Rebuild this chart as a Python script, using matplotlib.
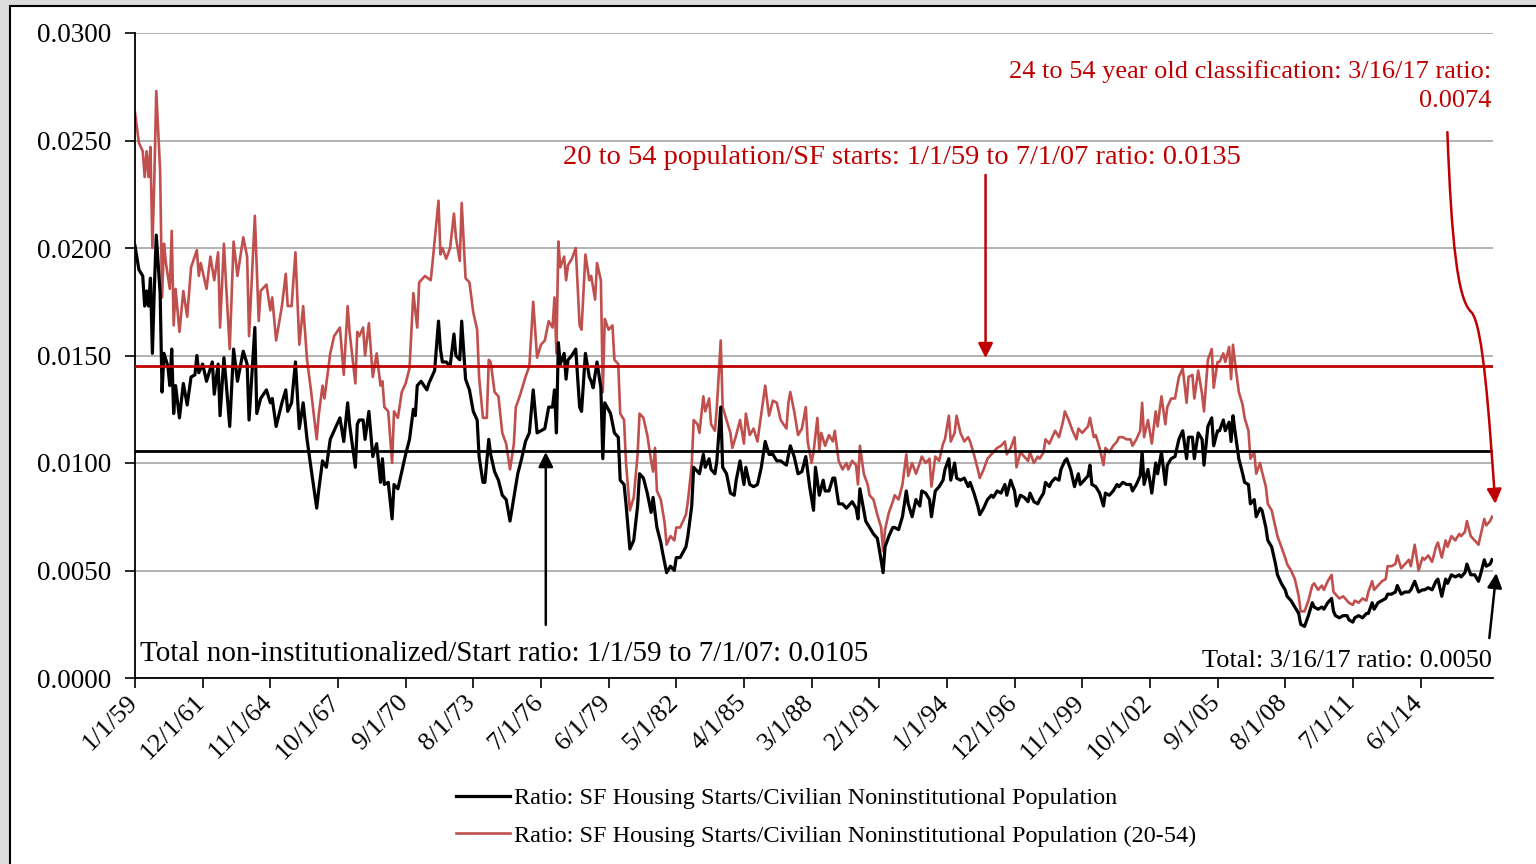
import numpy as np
import matplotlib
matplotlib.use("Agg")
import matplotlib.pyplot as plt
from matplotlib.patches import Rectangle, FancyArrowPatch
from matplotlib.path import Path
from matplotlib.transforms import ScaledTranslation

plt.rcParams['font.family'] = ['Liberation Serif', 'DejaVu Serif']

# months counted from 1/1/59, ratios in units of 1e-4
red_month = [
    0, 2, 4, 5, 6, 7, 8, 9, 10, 11,
    13, 14, 15, 16, 18, 19, 20, 21, 23, 25,
    27, 29, 32, 33, 34, 37, 39, 41, 43, 44,
    46, 47, 49, 51, 53, 56, 58, 59, 62, 64,
    65, 68, 70, 71, 73, 76, 78, 79, 81, 83,
    85, 87, 89, 91, 94, 95, 97, 98, 101, 103,
    106, 108, 110, 111, 114, 115,
    116, 118, 119, 121, 123, 125, 127, 128, 129, 131,
    133, 134, 136, 138, 140, 142, 144, 146, 147, 150,
    153, 154, 157, 158, 159, 161, 163, 165, 166, 168,
    169, 171, 173, 175, 177, 178, 180, 182, 183, 184,
    186, 188, 190, 192, 194, 196, 197, 199, 202, 204,
    206, 208, 210, 212, 214, 216, 217, 218, 219, 220,
    222, 223, 224, 226, 228, 230, 231, 233,
    235, 236, 238, 239, 241, 242, 243, 245, 247, 248,
    250, 251, 253, 254, 256, 258, 260, 261, 263, 265,
    267, 268, 269, 270, 272, 274, 275, 277, 279, 280,
    282, 285, 286, 288, 289, 291, 292, 294, 295, 297,
    298, 300, 301, 303, 304, 306, 308, 309, 311, 313,
    315, 316, 318, 320, 322, 324, 326, 328, 330, 332,
    334, 337, 338, 339, 341, 343, 345, 347, 348, 350,
    351, 353, 354, 355, 357, 359, 361, 362, 364, 366,
    368, 369, 371, 373, 374, 375, 377, 379, 380, 382,
    384, 386, 387, 388, 390, 392, 393, 395, 397, 399,
    400, 402, 404, 406, 407, 409, 411, 412, 414, 416,
    418, 419, 421, 422, 424, 425, 427, 429, 431, 432,
    434, 436, 437, 439, 441, 443, 444, 446, 448, 450,
    451, 453, 455, 456, 458, 460, 462, 463, 465, 467,
    468, 470, 471, 473, 474, 476, 478, 480, 481, 483,
    485, 487, 488, 490, 491, 493, 494, 496, 497, 499,
    501, 502, 504, 506, 508, 509, 511, 513, 515, 516,
    518, 520, 521, 522, 524, 526, 528, 529, 531, 533,
    534, 536, 538, 540, 542, 544, 545, 547, 548, 550,
    552, 553, 555, 557, 558, 560, 561, 563, 564, 566,
    567, 568, 569, 571, 573, 574, 576, 577, 579, 580,
    582, 583, 585,
    586, 588, 590, 591, 593, 595, 596, 598, 600, 602,
    603, 605, 607, 609, 610, 612, 614, 615, 617, 619,
    620, 621, 623, 625, 627, 628, 630, 631, 633, 635,
    637, 638, 640, 641, 643, 645, 647, 648, 650, 652,
    653, 655, 657, 659, 660, 662, 664, 666, 667, 669,
    671, 673, 674, 676, 678, 679, 681, 683, 685, 686,
    688, 689, 691, 693, 695, 696, 698, 699, 701, 702,
]
red_ratio = [
    263, 249, 245, 233, 245, 233, 247, 200, 232, 273,
    236, 177, 202, 193, 181, 208, 164, 181, 161, 180,
    168, 191, 199, 187, 193, 181, 196, 185, 198, 163,
    202, 185, 153, 203, 187, 205, 196, 159, 215, 166,
    180, 183, 171, 177, 157, 173, 188, 173, 173, 198,
    155, 173, 148, 134, 111, 122, 136, 130, 151, 159,
    163, 141, 173, 161, 137, 161,
    159, 163, 150, 165, 140, 151, 136, 138, 126, 124,
    100, 124, 121, 133, 137, 144, 179, 163, 184, 187,
    185, 194, 222, 197, 200, 195, 200, 216, 205, 194,
    221, 186, 184, 170, 162, 140, 121, 121, 148, 147,
    133, 131, 114, 109, 97, 109, 126, 131, 140, 145,
    175, 149, 155, 157, 166, 163, 177, 151, 203, 191,
    196, 185, 192, 195, 200, 164, 162, 197,
    185, 187, 176, 193, 185, 133, 167, 162, 164, 148,
    146, 123, 120, 100, 78, 84, 104, 123, 121, 113,
    101, 96, 107, 87, 83, 72, 62, 66, 64, 70,
    70, 76, 82, 99, 120, 118, 114, 131, 124, 130,
    118, 115, 126, 157, 126, 120, 114, 107, 113, 120,
    109, 123, 113, 116, 110, 123, 136, 122, 129, 128,
    120, 116, 128, 133, 124, 113, 116, 126, 110, 100,
    105, 121, 106, 114, 108, 113, 110, 115, 101, 97,
    100, 97, 101, 99, 90, 108, 95, 90, 85, 83,
    76, 70, 59, 69, 77, 82, 85, 83, 90, 104,
    94, 100, 95, 100, 103, 100, 102, 89, 103, 101,
    109, 111, 122, 110, 114, 122, 114, 110, 112, 110,
    104, 97, 93, 97, 102, 104, 105, 107, 108, 110,
    104, 107, 112, 98, 105, 103, 101, 105, 100, 103,
    102, 105, 111, 109, 111, 115, 112, 119, 124, 120,
    115, 111, 116, 114, 115, 117, 121, 112, 113, 107,
    99, 107, 105, 108, 110, 112, 112, 111, 111, 108,
    111, 115, 128, 112, 120, 109, 124, 117, 131, 118,
    126, 130, 130, 140, 144, 128, 140, 141, 130, 143,
    132, 124, 148, 153, 135, 147, 147, 151, 147, 154,
    139, 155, 147, 133, 127, 121, 115, 102, 105, 95,
    100, 96, 89,
    81, 78, 70, 66, 61, 56, 53, 50, 46, 38,
    31, 31, 36, 43, 44, 41, 43, 41, 45, 48,
    40, 39, 37, 38, 36, 35, 34, 36, 35, 37,
    36, 40, 45, 41, 43, 45, 46, 52, 52, 53,
    57, 51, 53, 55, 52, 62, 50, 56, 55, 57,
    54, 61, 63, 56, 64, 61, 66, 64, 67, 66,
    68, 73, 66, 64, 62, 66, 74, 71, 73, 75,
]

black_month = [
    0, 2, 4, 5, 6, 7, 8, 9, 10, 11,
    13, 14, 15, 17, 18, 19, 20, 21, 23, 25,
    27, 29, 31, 32, 33, 35, 37, 40, 41, 43,
    44, 46, 47, 49, 51, 53, 56, 58, 59, 62,
    63, 65, 68, 70, 71, 73, 76, 78, 79, 81,
    83, 85, 87, 89, 91, 94, 95, 97, 99, 101,
    103, 106, 108, 110, 111, 114, 115,
    116, 118, 119, 121, 123, 125, 127, 128, 129, 131,
    133, 134, 136, 138, 140, 142, 144, 145, 146, 148,
    151, 152, 155, 157, 158, 159, 161, 163, 165, 166,
    168, 169, 171, 173, 175, 177, 178, 180, 181, 183,
    184, 186, 188, 190, 192, 194, 196, 198, 200, 202,
    204, 206, 208, 210, 212, 214, 216, 217, 218, 219,
    220, 222, 223, 224, 226, 228, 230, 231, 233, 235,
    236, 237, 239, 241, 242, 243, 246, 248, 250, 251,
    253, 254, 256, 258, 260, 261, 263, 265, 267, 268,
    270, 272, 273, 275, 277, 279, 280, 282, 285, 286,
    288, 289, 292, 294, 295, 297, 298, 300, 301, 303,
    304, 306, 308, 310, 311, 313, 315, 316, 318, 320,
    322, 324, 326, 328, 330, 332, 334, 337, 339, 341,
    343, 345, 347, 349, 351,
    352, 354, 356, 357, 359, 361, 362, 364, 366, 368,
    369, 371, 373, 374, 375, 377, 378, 380, 382, 384,
    385, 387, 388, 390, 392, 393, 395, 397, 399, 400,
    402, 404, 406, 407, 409, 411, 412, 414, 416, 418,
    419, 421, 422, 424, 425, 427, 429, 431, 432, 434,
    436, 437, 439, 441, 443, 444, 446, 448, 450, 451,
    453, 455, 456, 458, 460, 462, 463, 465, 467,
    468, 470, 471, 473, 474, 476, 478, 479, 481, 482,
    484, 486, 488, 489, 491, 493, 494, 495, 497, 499,
    501, 502, 504, 506, 508, 509, 511, 513, 515, 516,
    518, 520, 521, 522, 524, 526, 528, 529, 531, 533,
    534, 536, 538, 540, 542, 544, 545, 547, 548, 550,
    552, 553, 555, 557, 558, 560, 561, 563, 564, 566,
    567, 568, 569, 571, 573, 574, 576, 577, 579, 580,
    582, 583, 585,
    586, 588, 590, 591, 593, 595, 596, 598, 600, 602,
    603, 605, 607, 609, 610, 612, 614, 615, 617, 619,
    620, 621, 623, 625, 627, 628, 630, 631, 633, 635,
    637, 638, 640, 641, 643, 645, 647, 648, 650, 652,
    653, 655, 657, 659, 660, 662, 664, 666, 667, 669,
    671, 673, 674, 676, 678, 679, 681, 683, 685, 686,
    688, 689, 691, 693, 695, 696, 698, 699, 701, 702,
]
black_ratio = [
    201, 190, 187, 173, 180, 173, 186, 151, 181, 206,
    179, 133, 151, 145, 136, 153, 123, 136, 121, 137,
    127, 140, 141, 150, 142, 146, 138, 147, 132, 146,
    122, 149, 139, 117, 153, 138, 152, 146, 120, 163,
    123, 130, 134, 128, 130, 117, 128, 134, 124, 128,
    147, 116, 128, 111, 98, 79, 87, 101, 98, 111,
    115, 121, 110, 128, 118, 98, 118,
    120, 120, 111, 124, 103, 109, 91, 102, 90, 91,
    74, 90, 88, 96, 104, 111, 125, 122, 136, 138,
    134, 137, 143, 166, 153, 147, 147, 145, 160, 150,
    148, 166, 139, 134, 124, 120, 103, 91, 91, 111,
    104, 96, 92, 85, 83, 73, 84, 95, 102, 110,
    114, 134, 114, 115, 116, 126, 126, 134, 114, 156,
    146, 151, 139, 148, 150, 153, 126, 124, 151, 140,
    138, 135, 147, 135, 102, 128, 123, 114, 112, 92,
    90, 81, 60, 64, 80, 95, 93, 86, 77, 84,
    70, 63, 58, 49, 52, 50, 56, 56, 61, 66,
    80, 98, 95, 104, 98, 102, 97, 95, 101, 126,
    98, 95, 86, 85, 92, 101, 90, 98, 90, 89,
    90, 98, 110, 104, 104, 101, 101, 99, 108, 103,
    95, 96, 103, 89, 78,
    98, 85, 92, 87, 87, 93, 93, 81, 81, 79,
    80, 82, 79, 74, 88, 78, 73, 70, 67, 65,
    60, 49, 61, 66, 70, 70, 69, 75, 87, 81,
    75, 83, 80, 87, 86, 83, 75, 87, 89, 92,
    97, 102, 92, 100, 93, 92, 93, 89, 91, 86,
    80, 76, 79, 83, 85, 84, 87, 86, 90, 85,
    92, 87, 80, 85, 84, 82, 86, 82, 81,
    83, 86, 91, 89, 91, 93, 92, 97, 101, 102,
    97, 89, 95, 90, 92, 94, 99, 90, 89, 86,
    80, 86, 85, 87, 90, 89, 91, 90, 90, 87,
    90, 94, 105, 90, 97, 86, 100, 95, 105, 90,
    99, 102, 103, 111, 115, 102, 112, 112, 102, 114,
    111, 99, 117, 121, 108, 115, 115, 120, 115, 119,
    110, 122, 115, 102, 95, 91, 90, 81, 83, 75,
    79, 78, 70,
    64, 61, 53, 48, 44, 41, 38, 36, 33, 30,
    25, 24, 29, 35, 33, 32, 33, 32, 35, 37,
    31, 29, 28, 29, 29, 27, 26, 28, 29, 28,
    30, 30, 35, 32, 35, 36, 37, 39, 39, 40,
    43, 39, 40, 40, 41, 45, 40, 41, 41, 42,
    41, 45, 46, 38, 46, 44, 48, 47, 48, 47,
    49, 53, 48, 48, 45, 48, 55, 52, 53, 55,
]

tick_labels = ['1/1/59', '12/1/61', '11/1/64', '10/1/67', '9/1/70', '8/1/73',
               '7/1/76', '6/1/79', '5/1/82', '4/1/85', '3/1/88', '2/1/91',
               '1/1/94', '12/1/96', '11/1/99', '10/1/02', '9/1/05', '8/1/08',
               '7/1/11', '6/1/14']
tick_step = 35  # months between labels

avg_20_54 = 0.0145   # red reference line as drawn
avg_total = 0.01055  # black reference line

red_x = np.array(red_month)
red_y = np.array(red_ratio) / 10000
blk_x = np.array(black_month)
blk_y = np.array(black_ratio) / 10000

RED_LINE = '#c0504d'
DARK_RED = '#c00000'

fig = plt.figure(figsize=(15.36, 8.64), dpi=100, facecolor='#dcdcdc')
# white chart area with a black frame on the left and top
frame = Rectangle((10 / 1536, -0.01), 1.02, 1 - 6 / 864 + 0.01,
                  transform=fig.transFigure, facecolor='white',
                  edgecolor='black', linewidth=1.5, zorder=-10)
fig.patches.append(frame)

ax = fig.add_axes([135 / 1536, 1 - 678 / 864, (1493 - 135) / 1536, (678 - 33) / 864])
ax.set_facecolor('none')

ax.plot(blk_x, blk_y, color='black', lw=2.3, zorder=3,
        label='Ratio: SF Housing Starts/Civilian Noninstitutional Population')
ax.plot(red_x, red_y, color=RED_LINE, lw=1.9, zorder=2,
        label='Ratio: SF Housing Starts/Civilian Noninstitutional Population (20-54)')
ax.axhline(avg_20_54, color=DARK_RED, lw=2.0, zorder=4)
ax.axhline(avg_total, color='black', lw=2.0, zorder=4)

ax.set_xlim(0, 702.5)
ax.set_ylim(0, 0.03)
ax.set_yticks(np.arange(0, 0.0301, 0.005))
ax.yaxis.set_major_formatter(plt.FuncFormatter(lambda v, p: f'{v:.4f}'))
ax.grid(axis='y', color='#a6a6a6', lw=1.2, zorder=0)
ax.set_axisbelow(True)
ax.set_xticks(np.arange(len(tick_labels)) * tick_step)
ax.set_xticklabels(tick_labels, rotation=45, ha='right', va='top',
                   rotation_mode='anchor')
ax.tick_params(axis='y', labelsize=19.5, length=7, width=1.2, direction='out', pad=10)
ax.tick_params(axis='x', labelsize=19, length=7, width=1.2, direction='out', pad=6)
shift = ScaledTranslation(-0.09, 0.05, fig.dpi_scale_trans)
for lab in ax.get_xticklabels():
    lab.set_transform(lab.get_transform() + shift)
for s in ['top', 'right']:
    ax.spines[s].set_visible(False)
for s in ['left', 'bottom']:
    ax.spines[s].set_linewidth(1.3)

# annotations
ax.text(396.6, 0.02423, '20 to 54 population/SF starts: 1/1/59 to 7/1/07 ratio: 0.0135',
        color=DARK_RED, fontsize=20.5, ha='center', va='center')
ax.annotate('', xy=(440, 0.01488), xytext=(440, 0.0234),
            arrowprops=dict(arrowstyle='-|>', color=DARK_RED, lw=1.8,
                            mutation_scale=22, shrinkA=0, shrinkB=0))
ax.text(701.7, 0.02823, '24 to 54 year old classification: 3/16/17 ratio:',
        color=DARK_RED, fontsize=19, ha='right', va='center')
ax.text(701.7, 0.02684, '0.0074', color=DARK_RED, fontsize=19, ha='right', va='center')
curve = Path([(678.9, 0.02539), (681.0, 0.02037), (684.1, 0.01758), (691.3, 0.01702),
              (697.5, 0.01642), (700.6, 0.01200), (703.7, 0.00810)],
             [Path.MOVETO, Path.CURVE4, Path.CURVE4, Path.CURVE4,
              Path.CURVE4, Path.CURVE4, Path.CURVE4])
ax.add_patch(FancyArrowPatch(path=curve, arrowstyle='-|>', color=DARK_RED, lw=1.8,
                             mutation_scale=22, clip_on=False, zorder=6))

ax.text(2.6, 0.00112, 'Total non-institutionalized/Start ratio: 1/1/59 to 7/1/07: 0.0105',
        color='black', fontsize=21, ha='left', va='center')
ax.annotate('', xy=(212.5, 0.01051), xytext=(212.5, 0.00247),
            arrowprops=dict(arrowstyle='-|>', color='black', lw=1.8,
                            mutation_scale=22, shrinkA=0, shrinkB=0))
ax.text(701.7, 0.00079, 'Total: 3/16/17 ratio: 0.0050',
        color='black', fontsize=19, ha='right', va='center')
ax.annotate('', xy=(704.2, 0.00488), xytext=(700.6, 0.00186), annotation_clip=False,
            arrowprops=dict(arrowstyle='-|>', color='black', lw=1.8,
                            mutation_scale=22, shrinkA=0, shrinkB=0))

fig.legend(loc='center left', bbox_to_anchor=(444 / 1536, 1 - 817 / 864),
           frameon=False, fontsize=17.5, handlelength=2.2, handletextpad=0.2,
           labelspacing=0.62, borderpad=0)

fig.savefig('out.png', dpi=100, facecolor=fig.get_facecolor())
